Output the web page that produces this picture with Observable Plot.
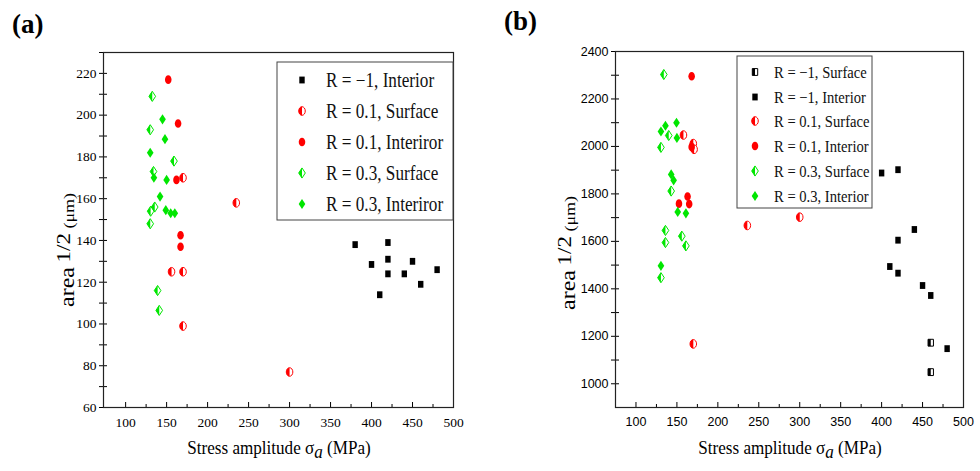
<!DOCTYPE html>
<html><head><meta charset="utf-8">
<script src="https://cdn.jsdelivr.net/npm/d3@7"></script>
<script src="https://cdn.jsdelivr.net/npm/@observablehq/plot@0.6"></script>
<style>
body{margin:0;background:#fff;}
#wrap{position:relative;width:980px;height:471px;overflow:hidden;background:#fff;}
#wrap > svg{position:absolute;top:0;}
</style></head><body><div id="wrap"></div>
<script>
// ---------- Panel (a) data ----------
const aLabels = ["R = \u22121, Interior", "R = 0.1, Surface", "R = 0.1, Interiror", "R = 0.3, Surface", "R = 0.3, Interiror"];
const aM1IntX = [380, 400, 410, 420, 420, 420, 440, 450, 460, 480];
const aM1IntY = [138, 128.5, 114, 139, 131, 124, 124, 130, 119, 126];
const a01SurfX = [170, 235, 156, 170, 170, 300];
const a01SurfY = [170, 158, 125, 125, 99, 77];
const a01IntX = [152, 164, 162, 167, 167];
const a01IntY = [217, 196, 169, 142.5, 137];
const a03SurfX = [132.5, 130, 159, 134, 135.5, 130.5, 130, 139, 141];
const a03SurfY = [209, 193, 178, 173, 156, 154, 148, 116, 106.5];
const a03IntX = [145, 148, 130, 134.5, 150, 142, 149, 155, 160];
const a03IntY = [198, 188.5, 182, 170, 169, 161, 154.5, 153, 153];
const aXTicks = [100, 150, 200, 250, 300, 350, 400, 450, 500];
const aYTicks = [60, 80, 100, 120, 140, 160, 180, 200, 220];

// ---------- Panel (b) data ----------
const bLabels = ["R = \u22121, Surface", "R = \u22121, Interior", "R = 0.1, Surface", "R = 0.1, Interior", "R = 0.3, Surface", "R = 0.3, Interior"];
const bM1SurfX = [460, 460];
const bM1SurfY = [1173, 1049];
const bM1IntX = [400, 420, 440, 420, 410, 420, 450, 460, 480];
const bM1IntY = [1888, 1902, 1650, 1605, 1494, 1466, 1414, 1372, 1148];
const b01SurfX = [158, 170, 171, 236, 300, 170];
const b01SurfY = [2048, 2012, 1988, 1667, 1702, 1168];
const b01IntX = [168, 168, 163, 152.5, 165];
const b01IntY = [2296, 1998, 1789, 1759, 1757];
const b03SurfX = [134, 130.5, 140, 143, 136, 136, 156, 161, 130.5];
const b03SurfY = [2303, 1996, 2046, 1812, 1646, 1595, 1622, 1581, 1447];
const b03IntX = [130.5, 136, 149.5, 150, 143, 146, 151, 161, 130.5];
const b03IntY = [2063, 2087, 2100, 2036, 1882, 1857, 1724, 1718, 1497];
const bXTicks = [100, 150, 200, 250, 300, 350, 400, 450, 500];
const bYTicks = [1000, 1200, 1400, 1600, 1800, 2000, 2200, 2400];

// ---------- symbols (slightly tall, as in the figure) ----------
const K = 0.5523;
const rad = s => Math.sqrt(s / Math.PI);
const symSquare = {draw(c, s){const r = rad(s), w = r*0.75, h = r*0.95; c.moveTo(-w,-h); c.lineTo(w,-h); c.lineTo(w,h); c.lineTo(-w,h); c.closePath();}};
const symSquareHalf = {draw(c, s){const r = rad(s), w = r*0.75, h = r*0.95; c.moveTo(-w,-h); c.lineTo(0,-h); c.lineTo(0,h); c.lineTo(-w,h); c.closePath();}};
const symEll = {draw(c, s){const r = rad(s), rx = r*0.8, ry = r*1.05;
  c.moveTo(0,-ry); c.bezierCurveTo(K*rx,-ry, rx,-K*ry, rx,0); c.bezierCurveTo(rx,K*ry, K*rx,ry, 0,ry);
  c.bezierCurveTo(-K*rx,ry, -rx,K*ry, -rx,0); c.bezierCurveTo(-rx,-K*ry, -K*rx,-ry, 0,-ry); c.closePath();}};
const symEllHalf = {draw(c, s){const r = rad(s), rx = r*0.8, ry = r*1.05;
  c.moveTo(0,-ry); c.lineTo(0,ry); c.bezierCurveTo(-K*rx,ry, -rx,K*ry, -rx,0); c.bezierCurveTo(-rx,-K*ry, -K*rx,-ry, 0,-ry); c.closePath();}};
const symDia = {draw(c, s){const r = rad(s), rx = r*0.95, ry = r*1.45; c.moveTo(0,-ry); c.lineTo(rx,0); c.lineTo(0,ry); c.lineTo(-rx,0); c.closePath();}};
const symDiaHalf = {draw(c, s){const r = rad(s), rx = r*0.95, ry = r*1.45; c.moveTo(0,-ry); c.lineTo(0,ry); c.lineTo(-rx,0); c.closePath();}};

const RED = "#ff0000", GREEN = "#00e600", BLACK = "#000000";
const TYPES = {
  sqFull:  {full: symSquare, half: null, r: 3.6, color: BLACK},
  sqHalf:  {full: symSquare, half: symSquareHalf, r: 3.6, color: BLACK},
  ciFull:  {full: symEll, half: null, r: 4.1, color: RED},
  ciHalf:  {full: symEll, half: symEllHalf, r: 4.1, color: RED},
  diFull:  {full: symDia, half: null, r: 3.5, color: GREEN},
  diHalf:  {full: symDia, half: symDiaHalf, r: 3.5, color: GREEN}
};

function rows(xs, ys){ return xs.map((x, i) => ({x, y: ys[i]})); }
function seriesMarks(data, t){
  const T = TYPES[t];
  if (!T.half) return [Plot.dot(data, {x: "x", y: "y", symbol: T.full, r: T.r, fill: T.color, stroke: "none"})];
  return [
    Plot.dot(data, {x: "x", y: "y", symbol: T.full, r: T.r, fill: "white", stroke: T.color, strokeWidth: 1}),
    Plot.dot(data, {x: "x", y: "y", symbol: T.half, r: T.r, fill: T.color, stroke: "none"})
  ];
}
function axes(xTicks, yTicks, yMinor, xMinor, font, fs){
  return [
    Plot.axisX({ticks: xTicks, tickSize: -5, tickPadding: 15, label: null, tickFormat: d => String(d), fontFamily: font, fontSize: fs}),
    Plot.axisX({ticks: xMinor, tickSize: -3, label: null, fill: "none"}),
    Plot.axisY({ticks: yTicks, tickSize: 4, tickPadding: 3, label: null, tickFormat: d => String(d), fontFamily: font, fontSize: fs}),
    Plot.axisY({ticks: yTicks, tickSize: -4, label: null, fill: "none"}),
    Plot.axisY({ticks: yMinor, tickSize: 4, label: null, fill: "none"}),
    Plot.axisY({ticks: yMinor, tickSize: -4, label: null, fill: "none"}),
    Plot.frame({stroke: "#222", strokeWidth: 1.2})
  ];
}

const aTypes = ["sqFull", "ciHalf", "ciFull", "diHalf", "diFull"];
const aData = [rows(aM1IntX, aM1IntY), rows(a01SurfX, a01SurfY), rows(a01IntX, a01IntY), rows(a03SurfX, a03SurfY), rows(a03IntX, a03IntY)];
const bTypes = ["sqHalf", "sqFull", "ciHalf", "ciFull", "diHalf", "diFull"];
const bData = [rows(bM1SurfX, bM1SurfY), rows(bM1IntX, bM1IntY), rows(b01SurfX, b01SurfY), rows(b01IntX, b01IntY), rows(b03SurfX, b03SurfY), rows(b03IntX, b03IntY)];

const xMinor = d3.range(125, 500, 50);
const SERIF = '"Liberation Serif", "Times New Roman", serif';
const SANS = '"Liberation Sans", Arial, sans-serif';

const plotA = Plot.plot({
  width: 490, height: 471, marginLeft: 103, marginRight: 37, marginTop: 52, marginBottom: 64,
  x: {domain: [73, 500], label: null}, y: {domain: [60, 230], label: null},
  style: {fontFamily: SERIF, fontSize: "13px", color: "#000", background: "transparent"},
  marks: [
    ...axes(aXTicks, aYTicks, d3.range(70, 231, 20), xMinor, SERIF, 13.5),
    ...aData.flatMap((d, i) => seriesMarks(d, aTypes[i]))
  ]
});
plotA.style.left = "0px";

const plotB = Plot.plot({
  width: 490, height: 471, marginLeft: 125, marginRight: 17, marginTop: 51, marginBottom: 64,
  x: {domain: [75, 500], label: null}, y: {domain: [900, 2400], label: null},
  style: {fontFamily: SANS, fontSize: "12.5px", color: "#000", background: "transparent"},
  marks: [
    ...axes(bXTicks, bYTicks, d3.range(1100, 2400, 200), xMinor, SANS, 12.5),
    ...bData.flatMap((d, i) => seriesMarks(d, bTypes[i]))
  ]
});
plotB.style.left = "490px";

const wrap = document.getElementById("wrap");
wrap.appendChild(plotA);
wrap.appendChild(plotB);

// ---------- overlay: panel labels, axis titles, legends ----------
const ov = d3.select(wrap).append("svg").attr("width", 980).attr("height", 471).style("left", "0px").style("pointer-events", "none")
  .attr("font-family", SERIF);

ov.append("text").attr("x", 12).attr("y", 33).attr("font-size", 27).attr("font-weight", "bold").text("(a)");
ov.append("text").attr("x", 504).attr("y", 30).attr("font-size", 27).attr("font-weight", "bold").text("(b)");

function xTitle(cx){
  const t = ov.append("text").attr("transform", `translate(${cx},454) scale(0.9,1)`).attr("text-anchor", "middle").attr("font-size", 19);
  t.append("tspan").text("Stress amplitude \u03c3");
  t.append("tspan").attr("font-style", "italic").attr("dy", 4).text("a");
  t.append("tspan").attr("dy", -4).text(" (MPa)");
}
xTitle(279); xTitle(790);

function yTitle(bx, cy){
  const t = ov.append("text").attr("transform", `translate(${bx},${cy}) rotate(-90) scale(1,0.85)`).attr("text-anchor", "middle").attr("font-size", 24);
  t.append("tspan").text("area");
  t.append("tspan").attr("dy", -5).attr("font-size", 23).text("\u20091/2");
  t.append("tspan").attr("dy", 5).attr("font-size", 18).text(" (\u03bcm)");
}
yTitle(74, 250); yTitle(575, 253);

function legend(labels, types, box, rowY, mx, tx, fs){
  ov.append("rect").attr("x", box[0]).attr("y", box[1]).attr("width", box[2]).attr("height", box[3])
    .attr("fill", "white").attr("stroke", "#444").attr("stroke-width", 1);
  labels.forEach((lab, i) => {
    const T = TYPES[types[i]], y = rowY[i];
    const size = Math.PI * T.r * T.r;
    if (T.half){
      ov.append("path").attr("transform", `translate(${mx},${y})`).attr("d", d3.symbol(T.full, size)())
        .attr("fill", "white").attr("stroke", T.color);
      ov.append("path").attr("transform", `translate(${mx},${y})`).attr("d", d3.symbol(T.half, size)()).attr("fill", T.color);
    } else {
      ov.append("path").attr("transform", `translate(${mx},${y})`).attr("d", d3.symbol(T.full, size)()).attr("fill", T.color);
    }
    ov.append("text").attr("transform", `translate(${tx},${y}) scale(0.86,1)`).attr("dy", "0.35em")
      .attr("font-size", fs).attr("fill", "#111").text(lab);
  });
}
legend(aLabels, aTypes, [277, 62, 176, 158], [80, 111, 142, 173, 204], 302, 326, 20);
legend(bLabels, bTypes, [737, 56, 135, 152], [72, 97, 121, 146, 171, 196], 755, 774, 17);
</script></body></html>
